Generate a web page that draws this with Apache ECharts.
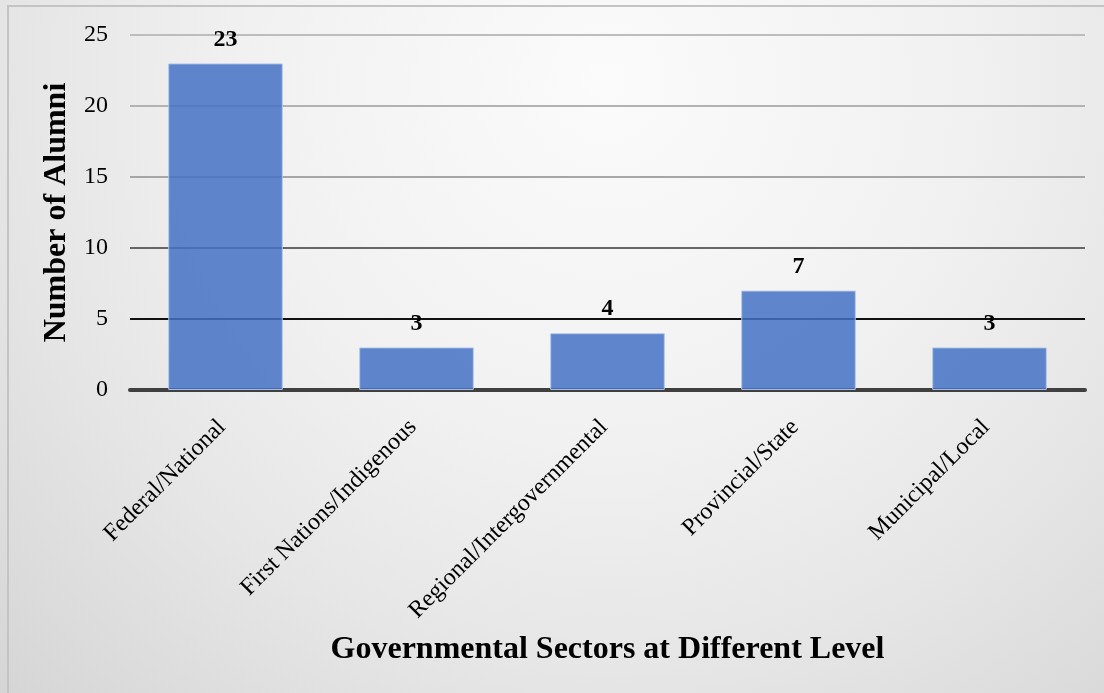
<!DOCTYPE html>
<html>
<head>
<meta charset="utf-8">
<script src="https://cdn.jsdelivr.net/npm/echarts@6/dist/echarts.min.js"></script>
<style>
  html, body { margin: 0; padding: 0; }
  #chart { width: 1104px; height: 693px; }
</style>
</head>
<body>
<div id="chart"></div>
<script>
// Alumni counts by level of government
const categories = ['Federal/National', 'First Nations/Indigenous', 'Regional/Intergovernmental', 'Provincial/State', 'Municipal/Local'];
const alumniCounts = [23, 3, 4, 7, 3];
const yTicks = [0, 5, 10, 15, 20, 25];

const serif = '"Liberation Serif", "Times New Roman", serif';

const chart = echarts.init(document.getElementById('chart'));
chart.setOption({
  animation: false,
  backgroundColor: {
    type: 'radial', x: 0.55, y: 0.12, r: 1.3,
    colorStops: [
      { offset: 0, color: '#fbfbfb' },
      { offset: 0.4, color: '#f1f1f1' },
      { offset: 0.65, color: '#e6e6e6' },
      { offset: 1, color: '#d3d3d3' }
    ]
  },
  graphic: [{
    type: 'rect', silent: true, z: -1,
    shape: { x: 8, y: 6, width: 1200, height: 800 },
    style: { fill: 'none', stroke: '#c4c4c4', lineWidth: 2 }
  }],
  grid: { left: 130, right: 19, top: 35, bottom: 303 },
  xAxis: {
    type: 'category',
    data: categories,
    axisLine: { lineStyle: { color: '#404040', width: 4 } },
    axisTick: { show: false },
    axisLabel: {
      rotate: 45, margin: 30, interval: 0, padding: [0, 5, 0, 0],
      fontFamily: serif, fontSize: 24, color: '#000'
    },
    name: 'Governmental Sectors at Different Level',
    nameLocation: 'middle', nameGap: 244,
    nameTextStyle: { fontFamily: serif, fontSize: 32, fontWeight: 'bold', color: '#000' }
  },
  yAxis: {
    type: 'value',
    min: yTicks[0], max: yTicks[yTicks.length - 1], interval: yTicks[1] - yTicks[0],
    axisLine: { show: false },
    axisTick: { show: false },
    axisLabel: { margin: 22, fontFamily: serif, fontSize: 24, color: '#000' },
    splitLine: {
      lineStyle: { width: 2, color: ['#404040', '#111111', '#666666', '#a6a6a6', '#b2b2b2', '#bdbdbd'] }
    },
    name: 'Number of Alumni',
    nameLocation: 'middle', nameGap: 57,
    nameTextStyle: { fontFamily: serif, fontSize: 32, fontWeight: 'bold', color: '#000' }
  },
  series: [{
    type: 'bar',
    data: alumniCounts,
    barCategoryGap: '40%',
    itemStyle: {
      color: 'rgba(68,114,196,0.85)',
      borderColor: 'rgba(180,200,235,0.9)',
      borderWidth: 1
    },
    label: {
      show: true, position: 'top', distance: 12,
      fontFamily: serif, fontSize: 24, fontWeight: 'bold', color: '#000'
    }
  }]
});
</script>
</body>
</html>
